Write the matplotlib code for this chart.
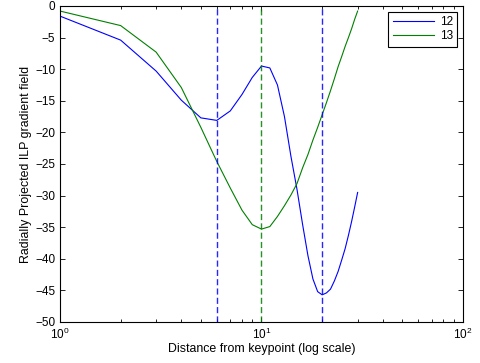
import matplotlib
matplotlib.use("Agg")
import matplotlib.pyplot as plt
from matplotlib.ticker import LogLocator, NullFormatter, FixedLocator

plt.rcParams['font.family'] = ['Liberation Sans', 'DejaVu Sans']
plt.rcParams['mathtext.fontset'] = 'custom'
plt.rcParams['mathtext.rm'] = 'Liberation Sans'
plt.rcParams['mathtext.it'] = 'Liberation Sans'

distance = list(range(1, 31))
series_12 = [-1.6, -5.4, -10.3, -14.9, -17.7, -18.1, -16.6, -14.0, -11.3, -9.5,
             -9.8, -12.5, -17.5, -23.8, -29.0, -34.6, -39.5, -43.2, -45.2, -45.7,
             -45.4, -44.8, -43.5, -42.0, -40.2, -38.4, -36.3, -34.1, -31.8, -29.5]
series_13 = [-0.8, -3.1, -7.3, -12.9, -19.2, -24.6, -28.8, -32.3, -34.6, -35.3,
             -34.9, -33.3, -31.6, -29.9, -28.1, -25.6, -23.5, -21.2, -19.2, -17.2,
             -15.3, -13.4, -11.5, -9.6, -8.0, -6.4, -5.0, -3.6, -2.1, -0.8]
labels = ['12', '13']
markers_x = [6, 10, 20]
marker_colors = ['blue', 'green', 'blue']

blue = (0, 0, 1)
green = (0, 0.5, 0)
cmap = {'blue': blue, 'green': green}

fig = plt.figure(figsize=(4.81, 3.63), dpi=100)
ax = fig.add_axes([60/481, 41/363, 403/481, 316/363])

ax.plot(distance, series_12, color=blue, lw=0.8, label=labels[0])
ax.plot(distance, series_13, color=green, lw=0.8, label=labels[1])
for xv, c in zip(markers_x, marker_colors):
    ax.axvline(xv, color=cmap[c], lw=1.0, alpha=0.85, ls=(0, (4.4, 2.3)))

ax.set_xscale('log')
ax.set_xlim(1, 100)
ax.set_ylim(-50, 0)
ax.yaxis.set_major_locator(FixedLocator(list(range(-50, 1, 5))))
ax.xaxis.set_major_locator(LogLocator(base=10, numticks=5))
ax.xaxis.set_minor_locator(LogLocator(base=10, subs=range(2, 10), numticks=20))
ax.xaxis.set_minor_formatter(NullFormatter())

ax.tick_params(which='both', direction='in', top=True, right=True, labelsize=8.5, width=0.6)
ax.tick_params(which='major', length=3.5)
ax.tick_params(which='minor', length=2)
for s in ax.spines.values():
    s.set_linewidth(0.8)

ax.set_xlabel('Distance from keypoint (log scale)', fontsize=8.9, labelpad=1)
ax.set_ylabel('Radially Projected ILP gradient field', fontsize=8.9, labelpad=2)

leg = ax.legend(loc='upper right', fontsize=8.5, fancybox=False, framealpha=1,
                edgecolor='black', borderaxespad=0.5, handlelength=3.5,
                handletextpad=0.5, borderpad=0.35, labelspacing=0.2)
leg.get_frame().set_linewidth(0.8)

fig.savefig('out.png', dpi=100)
